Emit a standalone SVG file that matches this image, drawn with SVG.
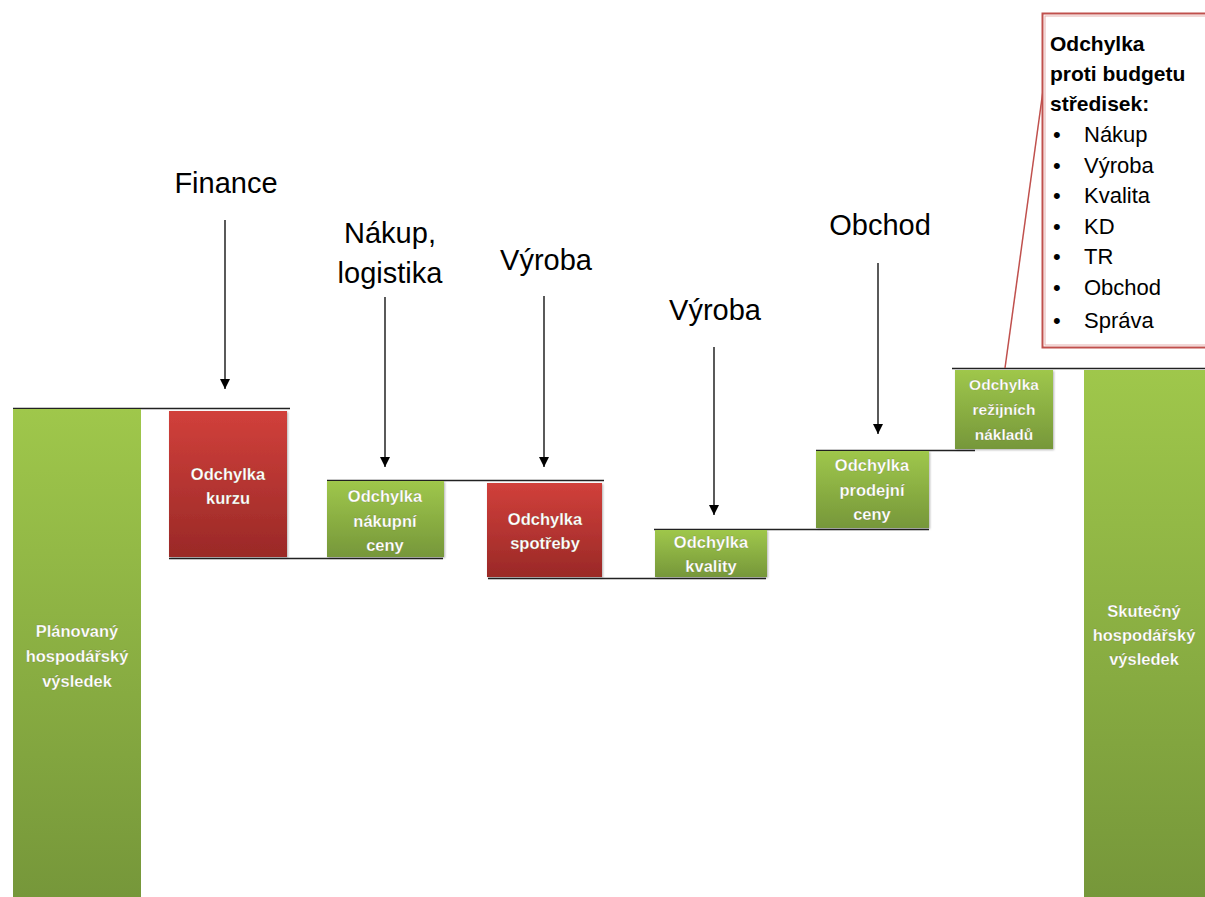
<svg xmlns="http://www.w3.org/2000/svg" width="1205" height="897" viewBox="0 0 1205 897">
<defs>
<linearGradient id="gGreen" x1="0" y1="0" x2="0" y2="1"><stop offset="0" stop-color="#9fc74b"/><stop offset="1" stop-color="#76973a"/></linearGradient>
<linearGradient id="gRed" x1="0" y1="0" x2="0" y2="1"><stop offset="0" stop-color="#d1403b"/><stop offset="1" stop-color="#9a2927"/></linearGradient>
<marker id="ah" viewBox="0 0 10 10" refX="10" refY="5" markerWidth="14" markerHeight="10" markerUnits="userSpaceOnUse" orient="auto"><path d="M0,0 L10,5 L0,10 z" fill="#000"/></marker>
<filter id="sh" x="-10%" y="-10%" width="130%" height="130%"><feDropShadow dx="1" dy="1" stdDeviation="1" flood-color="#000" flood-opacity="0.3"/></filter>
</defs>
<style>
.bt{font-family:"Liberation Sans",Arial,sans-serif;font-weight:bold;font-size:16.5px;fill:#fff;text-anchor:middle;stroke:#5a5a2a;stroke-width:0.3px;stroke-opacity:0.5}
.lb{font-family:"Liberation Sans",Arial,sans-serif;font-size:29px;fill:#000;text-anchor:middle}
.ct{font-family:"Liberation Sans",Arial,sans-serif;font-size:22px;fill:#000}
.cb{font-family:"Liberation Sans",Arial,sans-serif;font-size:21px;font-weight:bold;fill:#000}
.lv{stroke:#222;stroke-width:1.5;fill:none}
.ar{stroke:#000;stroke-width:1.3;fill:none;marker-end:url(#ah)}
</style>
<rect width="1205" height="897" fill="#fff"/>
<g id="connectors">
<line class="lv" x1="13" y1="408.5" x2="290" y2="408.5"/>
<line class="lv" x1="169" y1="558.5" x2="443" y2="558.5"/>
<line class="lv" x1="327" y1="480.5" x2="604" y2="480.5"/>
<line class="lv" x1="488" y1="578.5" x2="766" y2="578.5"/>
<line class="lv" x1="654" y1="529.5" x2="929" y2="529.5"/>
<line class="lv" x1="816" y1="450.5" x2="975" y2="450.5"/>
<line class="lv" x1="952" y1="368.5" x2="1205" y2="368.5"/>
<line class="ar" x1="225" y1="220" x2="225" y2="389"/>
<line class="ar" x1="385" y1="297" x2="385" y2="467"/>
<line class="ar" x1="544" y1="296" x2="544" y2="467"/>
<line class="ar" x1="714" y1="347" x2="714" y2="515"/>
<line class="ar" x1="878" y1="263" x2="878" y2="434"/>
<line x1="1005" y1="368" x2="1045" y2="76" stroke="#c0504d" stroke-width="1.5"/>
</g>
<g id="planned">
<rect x="13" y="409" width="128" height="488" fill="url(#gGreen)"/>
<text class="bt"><tspan x="77" y="637">Plánovaný</tspan><tspan x="77" y="662">hospodářský</tspan><tspan x="77" y="687">výsledek</tspan></text>
</g>
<g id="kurz">
<rect x="169" y="411" width="118" height="146" fill="url(#gRed)" filter="url(#sh)"/>
<text class="bt"><tspan x="228" y="480">Odchylka</tspan><tspan x="228" y="504">kurzu</tspan></text>
</g>
<g id="nakupni">
<rect x="327" y="481" width="117" height="76" fill="url(#gGreen)" filter="url(#sh)"/>
<text class="bt"><tspan x="385" y="502">Odchylka</tspan><tspan x="385" y="527">nákupní</tspan><tspan x="385" y="551">ceny</tspan></text>
</g>
<g id="spotreba">
<rect x="487" y="483" width="115" height="94" fill="url(#gRed)" filter="url(#sh)"/>
<text class="bt"><tspan x="545" y="525">Odchylka</tspan><tspan x="545" y="549">spotřeby</tspan></text>
</g>
<g id="kvalita">
<rect x="655" y="530" width="112" height="47" fill="url(#gGreen)" filter="url(#sh)"/>
<text class="bt"><tspan x="711" y="548">Odchylka</tspan><tspan x="711" y="572">kvality</tspan></text>
</g>
<g id="prodejni">
<rect x="816" y="451" width="113" height="77" fill="url(#gGreen)" filter="url(#sh)"/>
<text class="bt"><tspan x="872" y="471">Odchylka</tspan><tspan x="872" y="496">prodejní</tspan><tspan x="872" y="520">ceny</tspan></text>
</g>
<g id="rezijni">
<rect x="955" y="370" width="98" height="79" fill="url(#gGreen)" filter="url(#sh)"/>
<text class="bt" style="font-size:15.5px"><tspan x="1004" y="390">Odchylka</tspan><tspan x="1004" y="415">režijních</tspan><tspan x="1004" y="440">nákladů</tspan></text>
</g>
<g id="actual">
<rect x="1084" y="370" width="121" height="527" fill="url(#gGreen)"/>
<text class="bt"><tspan x="1144" y="617">Skutečný</tspan><tspan x="1144" y="641">hospodářský</tspan><tspan x="1144" y="665">výsledek</tspan></text>
</g>
<g id="labels">
<text class="lb" x="226" y="193">Finance</text>
<text class="lb"><tspan x="390" y="243">Nákup,</tspan><tspan x="390" y="283">logistika</tspan></text>
<text class="lb" x="546" y="270">Výroba</text>
<text class="lb" x="715" y="320">Výroba</text>
<text class="lb" x="880" y="235">Obchod</text>
</g>
<g id="callout">
<rect x="1042.5" y="13.5" width="175" height="334" fill="#fff" stroke="#c0504d" stroke-width="2"/>
<rect x="1045" y="16" width="170" height="329" fill="none" stroke="#e6b0ae" stroke-width="1"/>
<text class="cb"><tspan x="1050" y="51">Odchylka</tspan><tspan x="1050" y="81">proti budgetu</tspan><tspan x="1050" y="111">středisek:</tspan></text>
<text class="ct"><tspan x="1053" y="142">•</tspan><tspan x="1084" y="142">Nákup</tspan><tspan x="1053" y="173">•</tspan><tspan x="1084" y="173">Výroba</tspan><tspan x="1053" y="203">•</tspan><tspan x="1084" y="203">Kvalita</tspan><tspan x="1053" y="234">•</tspan><tspan x="1084" y="234">KD</tspan><tspan x="1053" y="264">•</tspan><tspan x="1084" y="264">TR</tspan><tspan x="1053" y="295">•</tspan><tspan x="1084" y="295">Obchod</tspan><tspan x="1053" y="328">•</tspan><tspan x="1084" y="328">Správa</tspan></text>
</g>
</svg>
